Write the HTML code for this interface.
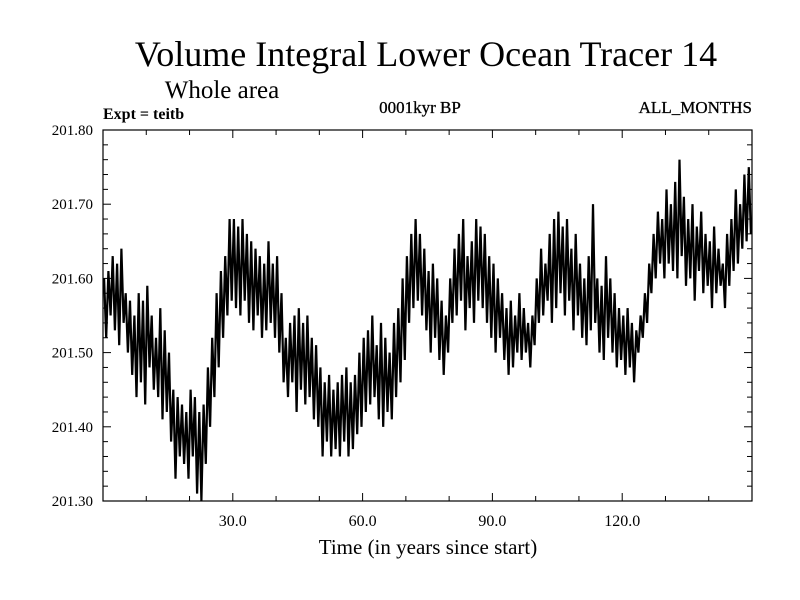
<!DOCTYPE html>
<html><head><meta charset="utf-8"><style>
body{margin:0;background:#fff}
svg{display:block;font-family:"Liberation Serif",serif}
</style></head><body>
<svg id="chart" width="800" height="600" viewBox="0 0 800 600">
<text x="426" y="66" font-size="36" text-anchor="middle">Volume Integral Lower Ocean Tracer 14</text>
<text x="222" y="98" font-size="25" text-anchor="middle">Whole area</text>
<text x="103" y="119" font-size="16" font-weight="bold">Expt = teitb</text>
<text x="420" y="113" font-size="17" text-anchor="middle" stroke="#000" stroke-width="0.3">0001kyr BP</text>
<text x="752" y="113" font-size="17" text-anchor="end" stroke="#000" stroke-width="0.3">ALL_MONTHS</text>
<text x="428" y="554" font-size="21" text-anchor="middle">Time (in years since start)</text>
<g id="axes"></g>
<g id="series"></g>
</svg>
<script>
const xTicks=[30,60,90,120];
const xTickLabels=["30.0","60.0","90.0","120.0"];
const yTicks=[201.3,201.4,201.5,201.6,201.7,201.8];
const yTickLabels=["201.30","201.40","201.50","201.60","201.70","201.80"];
const yearHigh=[.60,.61,.63,.62,.64,.58,.57,.55,.58,.57,.59,.55,.52,.56,.53,.50,.45,.44,.43,.42,.45,.44,.42,.43,.48,.52,.58,.61,.63,.68,.68,.67,.68,.66,.65,.64,.63,.62,.65,.62,.63,.58,.52,.54,.55,.56,.54,.55,.52,.51,.48,.46,.47,.45,.46,.47,.48,.46,.47,.50,.52,.53,.55,.51,.54,.52,.50,.54,.56,.60,.63,.66,.68,.66,.64,.61,.62,.60,.57,.55,.60,.64,.66,.68,.63,.65,.68,.67,.66,.63,.62,.60,.58,.56,.57,.55,.58,.56,.54,.55,.60,.64,.62,.66,.68,.69,.67,.68,.64,.66,.62,.60,.63,.70,.60,.59,.63,.60,.58,.56,.55,.56,.54,.53,.55,.58,.62,.66,.69,.68,.72,.70,.73,.76,.71,.68,.70,.67,.69,.66,.65,.67,.64,.62,.66,.68,.72,.70,.74,.75];
const yearLow=[.52,.55,.53,.51,.54,.50,.47,.44,.46,.43,.48,.45,.44,.41,.42,.38,.33,.36,.35,.33,.36,.31,.30,.35,.40,.44,.48,.52,.55,.57,.56,.55,.57,.54,.53,.55,.52,.53,.54,.52,.50,.46,.44,.46,.42,.45,.43,.44,.41,.40,.36,.38,.36,.37,.36,.38,.36,.37,.39,.40,.42,.43,.44,.41,.40,.42,.41,.44,.46,.49,.54,.56,.57,.55,.53,.50,.52,.49,.47,.50,.54,.55,.57,.53,.56,.54,.57,.56,.54,.52,.50,.52,.49,.47,.48,.50,.49,.50,.48,.51,.54,.55,.57,.54,.56,.58,.55,.57,.53,.55,.52,.51,.53,.54,.50,.49,.52,.50,.48,.49,.47,.48,.46,.50,.52,.54,.58,.60,.62,.60,.62,.61,.60,.63,.59,.60,.57,.61,.58,.59,.56,.58,.59,.56,.59,.61,.62,.64,.65,.66];
const base=201;
const L=103,R=752,T=130,B=501,X0=0,X1=150,Y0=201.3,Y1=201.8;
const sx=v=>L+(v-X0)/(X1-X0)*(R-L);
const sy=v=>B-(v-Y0)/(Y1-Y0)*(B-T);
const NS="http://www.w3.org/2000/svg";
function mk(t,a,p){const e=document.createElementNS(NS,t);for(const k in a)e.setAttribute(k,a[k]);p.appendChild(e);return e;}
const ax=document.getElementById('axes');
const frame=mk('rect',{x:L,y:T,width:R-L,height:B-T,fill:'none',stroke:'#000','stroke-width':1.2},ax);


for(let v=10;v<150;v+=10){
 const major=v%30===0,len=major?8:5,x=sx(v);
 const t1=mk('line',{x1:x,x2:x,y1:B,y2:B-len,stroke:'#000'},ax);
 
 
 const t2=mk('line',{x1:x,x2:x,y1:T,y2:T+len,stroke:'#000'},ax);
 
 
}
xTicks.forEach((v,i)=>{
 const t=mk('text',{x:sx(v),y:B+25,'font-size':16,'text-anchor':'middle'},ax);
 t.textContent=xTickLabels[i];
 
 
});
for(let k=1;k<25;k++){
 const v=Y0+k*0.02,major=k%5===0,len=major?8:5,y=sy(v);
 const a=mk('line',{x1:L,x2:L+len,y1:y,y2:y,stroke:'#000'},ax);
 
 
 const b=mk('line',{x1:R,x2:R-len,y1:y,y2:y,stroke:'#000'},ax);
 
 
}
yTicks.forEach((v,i)=>{
 const t=mk('text',{x:93,y:sy(v)+5,'font-size':15,'text-anchor':'end'},ax);
 t.textContent=yTickLabels[i];
 
 
});
let pts=[];
yearHigh.forEach((h,i)=>{
 pts.push(sx(i+0.25).toFixed(1)+','+sy(base+h).toFixed(1));
 pts.push(sx(i+0.75).toFixed(1)+','+sy(base+yearLow[i]).toFixed(1));
});
const line=mk('polyline',{points:pts.join(' '),fill:'none',stroke:'#000','stroke-width':2.2,'stroke-linejoin':'miter'},document.getElementById('series'));


</script>
</body></html>
